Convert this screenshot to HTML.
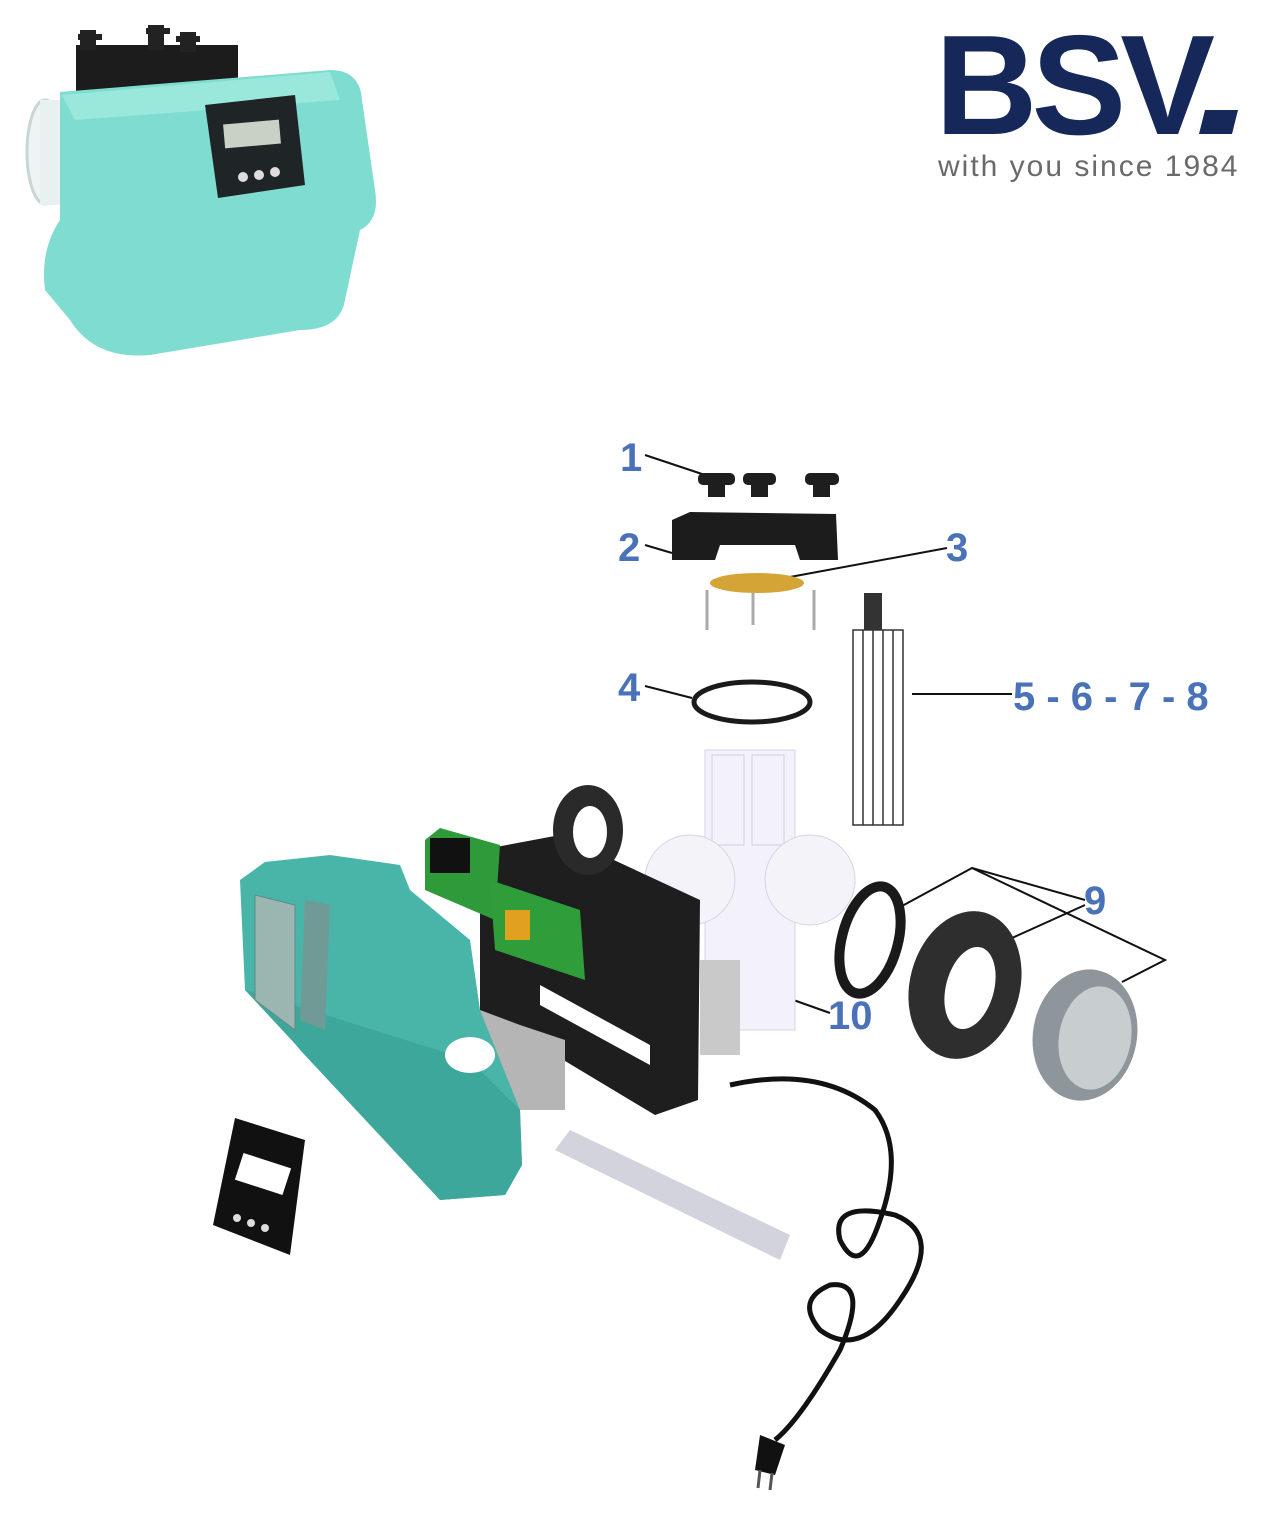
<!DOCTYPE html>
<html><head><meta charset="utf-8"><style>
html,body{margin:0;padding:0;background:#fff;}
svg{display:block;}
text{font-family:"Liberation Sans",sans-serif;}
</style></head><body>
<svg width="1268" height="1539" viewBox="0 0 1268 1539" xmlns="http://www.w3.org/2000/svg">
<rect width="1268" height="1539" fill="#fff"/>

<!-- Top-left product -->
<ellipse cx="45" cy="152" rx="18" ry="52" fill="#eef3f3" stroke="#c9d6d6" stroke-width="3"/>
<rect x="40" y="100" width="30" height="105" fill="#e9f0f0"/>
<rect x="76" y="45" width="162" height="52" fill="#1c1c1c"/>
<rect x="80" y="30" width="16" height="20" fill="#222"/><rect x="148" y="25" width="16" height="25" fill="#222"/><rect x="180" y="32" width="16" height="20" fill="#222"/>
<rect x="78" y="34" width="24" height="6" fill="#222"/><rect x="146" y="28" width="24" height="6" fill="#222"/><rect x="176" y="36" width="24" height="6" fill="#222"/>
<path d="M60 92 L330 70 Q360 70 362 100 L375 190 Q380 220 360 230 L345 300 Q340 330 300 330 L150 355 Q95 360 70 320 L45 290 Q40 250 60 220 Z" fill="#7fdcd0"/>
<path d="M62 95 L330 72 L340 100 L75 120 Z" fill="#9ae7dc"/>
<path d="M205 105 L295 95 L305 185 L218 198 Z" fill="#1f2426"/>
<rect x="224" y="122" width="56" height="24" fill="#c9d0c6" transform="rotate(-5 252 134)"/>
<circle cx="243" cy="177" r="5" fill="#ddd"/><circle cx="259" cy="175" r="5" fill="#ddd"/><circle cx="275" cy="172" r="5" fill="#ddd"/>

<!-- Logo -->
<text x="935" y="134" font-size="142" font-weight="bold" fill="#16285a" letter-spacing="-6">BSV</text>
<polygon points="1205,110 1238,110 1232,134 1199,134" fill="#16285a"/>
<text x="938" y="176" font-size="30" fill="#6a6a6a" letter-spacing="2">with you since 1984</text>

<!-- Labels -->
<g fill="#4a72b8" font-weight="bold" font-size="40">
<text x="620" y="471">1</text>
<text x="618" y="561">2</text>
<text x="946" y="561">3</text>
<text x="618" y="701">4</text>
<text x="1013" y="710">5 - 6 - 7 - 8</text>
<text x="1084" y="914">9</text>
<text x="828" y="1029">10</text>
</g>
<g stroke="#111" stroke-width="2" fill="none">
<line x1="645" y1="455" x2="705" y2="475"/>
<line x1="645" y1="545" x2="672" y2="553"/>
<line x1="947" y1="548" x2="790" y2="577"/>
<line x1="645" y1="686" x2="692" y2="698"/>
<line x1="912" y1="694" x2="1012" y2="694"/>
<polyline points="902,906 972,868 1165,960 1122,982"/>
<line x1="972" y1="868" x2="1085" y2="900"/>
<line x1="1085" y1="905" x2="1012" y2="938"/>
<line x1="785" y1="997" x2="830" y2="1013"/>
<line x1="745" y1="935" x2="855" y2="882"/>
</g>

<!-- knobs -->
<g fill="#1e1e1e">
<rect x="698" y="473" width="37" height="12" rx="5"/><rect x="708" y="483" width="17" height="14"/>
<rect x="743" y="473" width="33" height="12" rx="5"/><rect x="751" y="483" width="17" height="14"/>
<rect x="805" y="473" width="34" height="12" rx="5"/><rect x="813" y="483" width="17" height="14"/>
</g>
<!-- block -->
<polygon points="672,520 690,512 836,514 838,560 800,560 795,545 720,545 715,560 672,560" fill="#1c1c1c"/>
<!-- disk + pins -->
<g stroke="#aaa" stroke-width="3"><line x1="707" y1="590" x2="707" y2="630"/><line x1="753" y1="590" x2="753" y2="625"/><line x1="814" y1="590" x2="814" y2="630"/></g>
<ellipse cx="757" cy="583" rx="47" ry="10" fill="#d4a437"/>
<!-- o-ring -->
<ellipse cx="752" cy="702" rx="58" ry="20" fill="none" stroke="#1a1a1a" stroke-width="5"/>
<!-- electrode -->
<rect x="864" y="593" width="18" height="37" fill="#333"/>
<rect x="853" y="630" width="50" height="195" fill="#fff" stroke="#333" stroke-width="1.5"/>
<g stroke="#333" stroke-width="1.5"><line x1="863" y1="630" x2="863" y2="825"/><line x1="873" y1="630" x2="873" y2="825"/><line x1="883" y1="630" x2="883" y2="825"/><line x1="893" y1="630" x2="893" y2="825"/></g>

<!-- clear cell -->
<rect x="705" y="750" width="90" height="280" fill="#f3f2fa" stroke="#d6d4e6"/>
<rect x="712" y="755" width="32" height="90" fill="none" stroke="#d0cee2"/>
<rect x="752" y="755" width="32" height="90" fill="none" stroke="#d0cee2"/>
<ellipse cx="690" cy="880" rx="45" ry="45" fill="#f4f3fa" stroke="#d6d4e6"/>
<ellipse cx="810" cy="880" rx="45" ry="45" fill="#f4f3fa" stroke="#d6d4e6"/>
<rect x="700" y="960" width="40" height="95" fill="#c9c9c9"/>

<!-- black frame -->
<polygon points="480,850 560,835 700,900 698,1100 655,1115 480,1010" fill="#1e1e1e"/>
<ellipse cx="588" cy="830" rx="35" ry="45" fill="#2a2a2a"/><ellipse cx="590" cy="832" rx="17" ry="26" fill="#fff"/>
<polygon points="540,985 650,1045 650,1065 540,1005" fill="#fff"/>
<!-- PCB -->
<polygon points="425,840 440,828 500,845 495,920 425,890" fill="#2f9a3a"/>
<polygon points="490,880 580,910 585,980 495,950" fill="#2e9d3a"/>
<rect x="430" y="838" width="40" height="35" fill="#111"/>
<rect x="505" y="910" width="25" height="30" fill="#e1a020"/>
<!-- silver block -->
<polygon points="480,1010 520,1025 565,1040 565,1110 520,1110 480,1080" fill="#b5b5b5"/>

<!-- teal housing -->
<path d="M240 880 L265 862 L330 855 L400 865 L410 890 L470 940 L480 1010 L520 1110 L522 1165 L505 1195 L440 1200 L300 1050 L260 1000 L245 990 Z" fill="#49b5a9"/>
<path d="M245 990 L440 1200 L505 1195 L522 1165 L520 1110 L470 1060 Z" fill="#3ea79b"/>
<polygon points="255,895 295,905 295,1030 255,1000" fill="#9bb5b0" stroke="#5f8a84"/>
<polygon points="305,900 330,905 325,1030 300,1020" fill="#6f9a95"/>
<ellipse cx="470" cy="1055" rx="25" ry="18" fill="#fff"/>

<!-- ring gasket -->
<ellipse cx="870" cy="940" rx="28" ry="55" fill="none" stroke="#1a1a1a" stroke-width="10" transform="rotate(15 870 940)"/>
<!-- nut -->
<ellipse cx="965" cy="985" rx="55" ry="75" fill="#2e2e2e" transform="rotate(15 965 985)"/>
<ellipse cx="970" cy="988" rx="24" ry="42" fill="#fff" transform="rotate(15 970 988)"/>
<!-- union -->
<ellipse cx="1085" cy="1035" rx="52" ry="66" fill="#8e969c" transform="rotate(10 1085 1035)"/>
<ellipse cx="1095" cy="1038" rx="36" ry="52" fill="#c8cdd0" transform="rotate(10 1095 1038)"/>

<!-- grey plate -->
<polygon points="570,1130 790,1235 780,1260 555,1150" fill="#d2d3dc"/>
<!-- label card -->
<polygon points="235,1118 305,1140 290,1255 213,1225" fill="#111"/>
<rect x="238" y="1160" width="50" height="28" fill="#fff" transform="rotate(18 263 1174)"/>
<circle cx="237" cy="1218" r="4" fill="#ddd"/><circle cx="251" cy="1223" r="4" fill="#ddd"/><circle cx="265" cy="1228" r="4" fill="#ddd"/>

<!-- cable -->
<path d="M730 1085 Q820 1065 875 1110 Q905 1150 880 1220 Q860 1280 840 1240 Q830 1200 895 1215 Q945 1235 900 1300 Q860 1360 820 1330 Q795 1300 830 1285 Q870 1280 840 1350 Q800 1420 775 1440" fill="none" stroke="#111" stroke-width="5"/>
<polygon points="760,1435 785,1445 775,1475 755,1470" fill="#111"/>
<line x1="760" y1="1470" x2="758" y2="1488" stroke="#555" stroke-width="3"/><line x1="772" y1="1473" x2="770" y2="1490" stroke="#555" stroke-width="3"/>
</svg>
</body></html>
